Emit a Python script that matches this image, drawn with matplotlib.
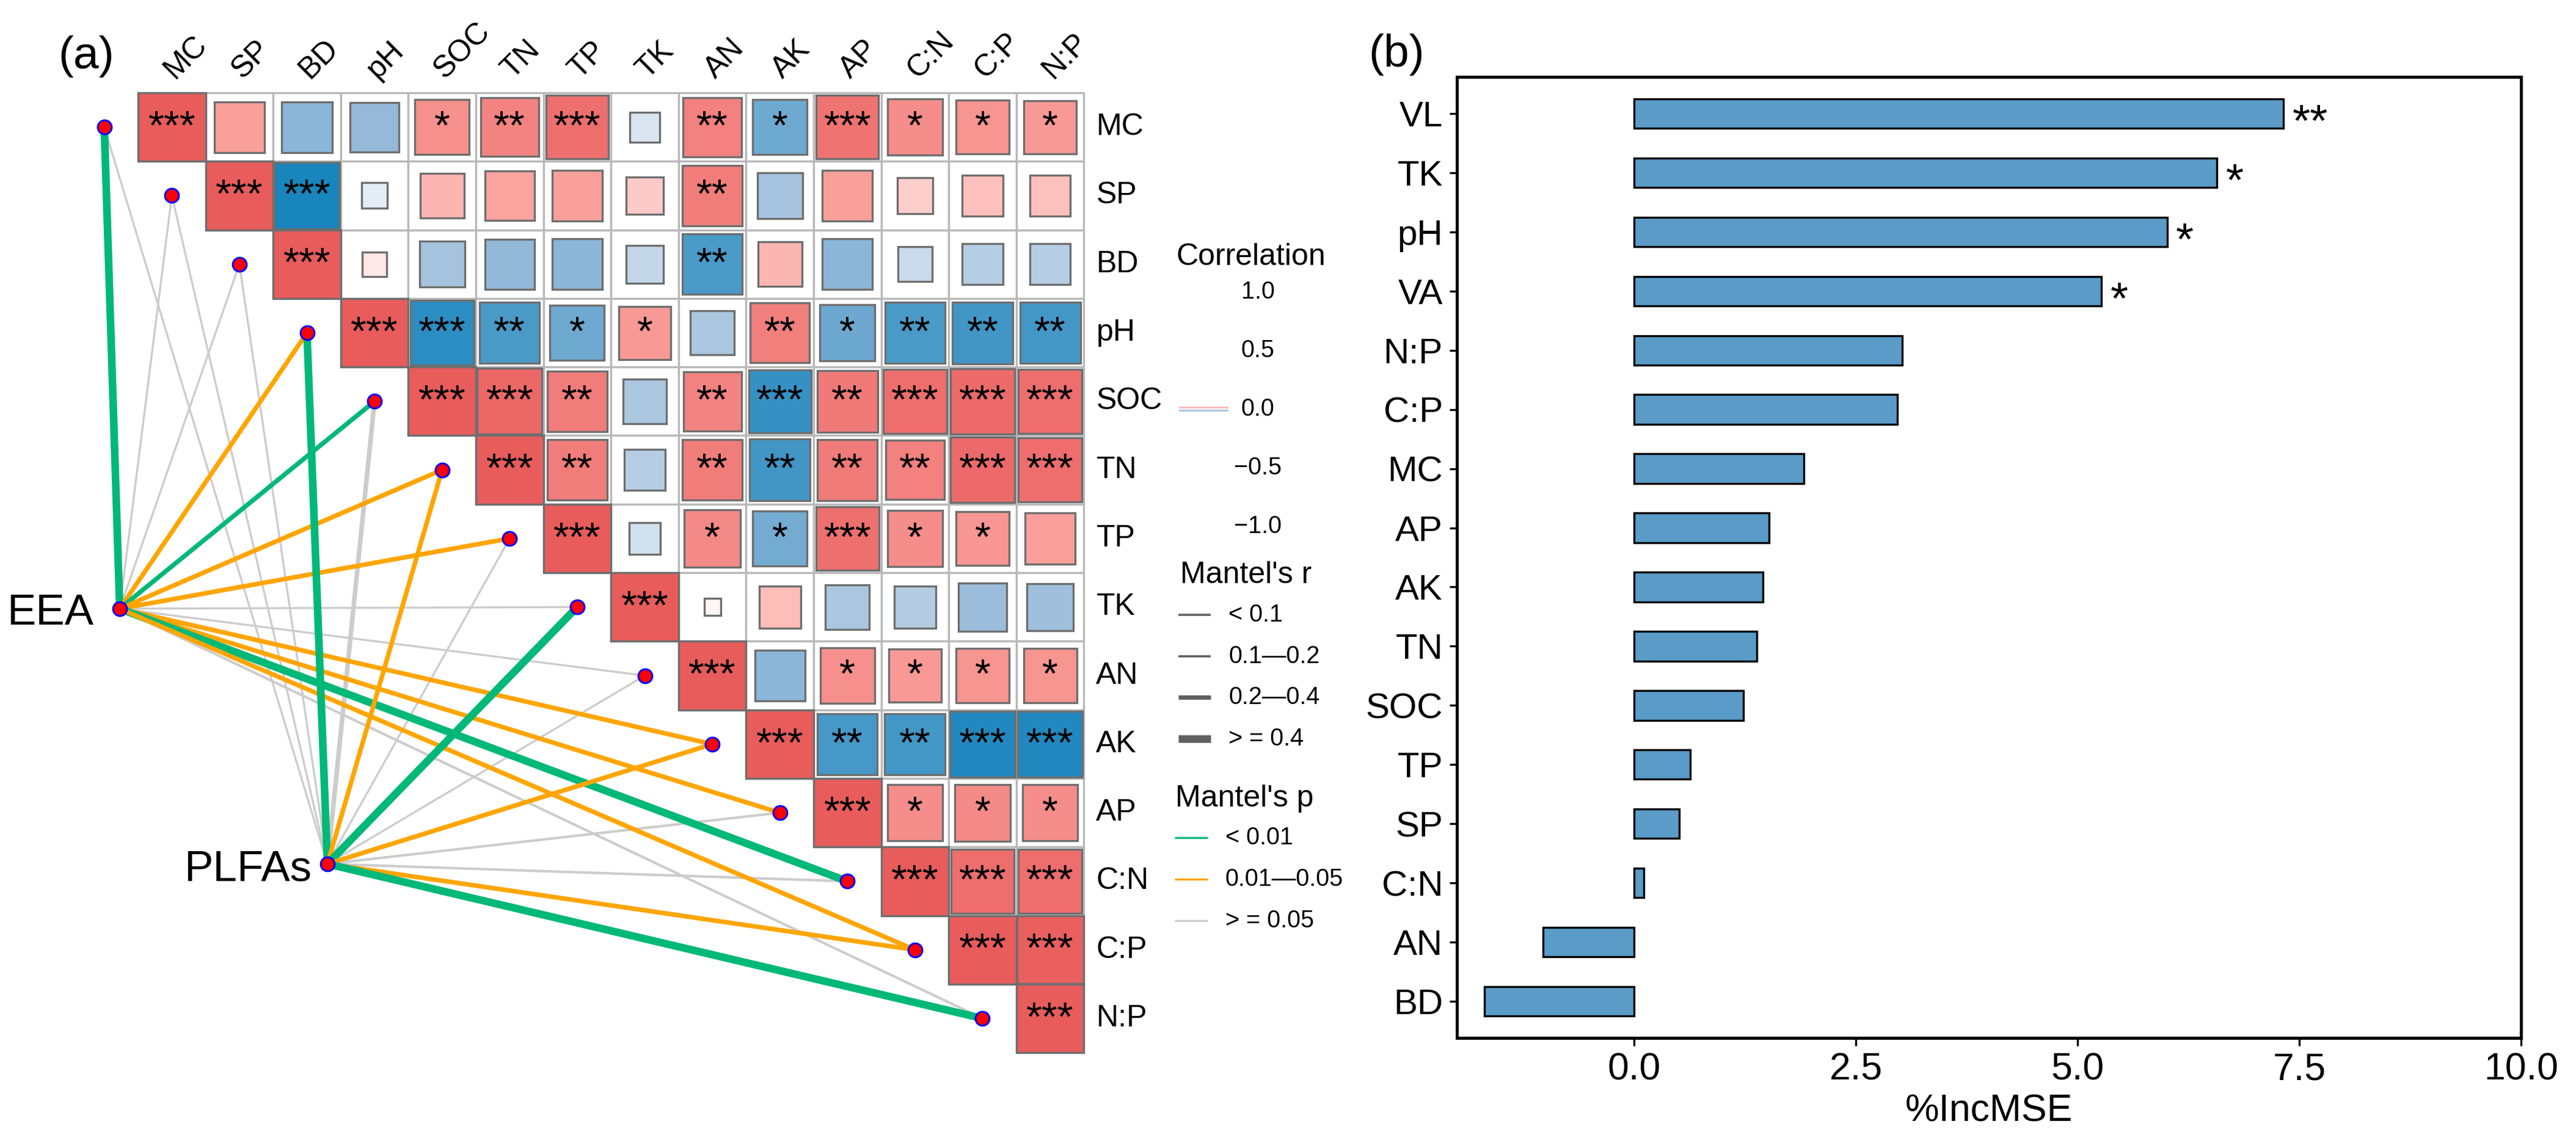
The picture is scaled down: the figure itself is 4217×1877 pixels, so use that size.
import numpy as np
import matplotlib
matplotlib.use('Agg')
import matplotlib.pyplot as plt
from matplotlib.patches import Rectangle
from matplotlib.colors import LinearSegmentedColormap

plt.rcParams['font.family'] = ['Liberation Sans', 'DejaVu Sans']

# ---------------- data ----------------
variables = ['MC', 'SP', 'BD', 'pH', 'SOC', 'TN', 'TP', 'TK', 'AN', 'AK', 'AP', 'C:N', 'C:P', 'N:P']

# upper triangle, row by row (values right of the diagonal)
corr_rows = [
    [0.55, -0.55, -0.52, 0.65, 0.74, 0.86, -0.19, 0.75, -0.65, 0.85, 0.67, 0.62, 0.60],
    [-0.95, -0.14, 0.42, 0.53, 0.55, 0.30, 0.78, -0.45, 0.55, 0.28, 0.36, 0.36],
    [0.13, -0.45, -0.53, -0.55, -0.30, -0.78, 0.42, -0.55, -0.26, -0.36, -0.36],
    [-0.88, -0.78, -0.65, 0.60, -0.42, 0.77, -0.66, -0.78, -0.81, -0.80],
    [0.92, 0.78, -0.42, 0.74, -0.85, 0.80, 0.88, 0.90, 0.88],
    [0.78, -0.36, 0.78, -0.81, 0.79, 0.75, 0.90, 0.88],
    [-0.22, 0.69, -0.64, 0.86, 0.67, 0.61, 0.56],
    [0.06, 0.38, -0.42, -0.38, -0.50, -0.47],
    [-0.55, 0.65, 0.60, 0.62, 0.62],
    [-0.79, -0.80, -0.92, -0.92],
    [0.67, 0.69, 0.67],
    [0.88, 0.88],
    [0.97],
    [],
]
star_rows = [
    ['', '', '', '*', '**', '***', '', '**', '*', '***', '*', '*', '*'],
    ['***', '', '', '', '', '', '**', '', '', '', '', ''],
    ['', '', '', '', '', '**', '', '', '', '', ''],
    ['***', '**', '*', '*', '', '**', '*', '**', '**', '**'],
    ['***', '**', '', '**', '***', '**', '***', '***', '***'],
    ['**', '', '**', '**', '**', '**', '***', '***'],
    ['', '*', '*', '***', '*', '*', ''],
    ['', '', '', '', '', ''],
    ['', '*', '*', '*', '*'],
    ['**', '**', '***', '***'],
    ['*', '*', '*'],
    ['***', '***'],
    ['***'],
    [],
]

# Mantel test of each community against each soil variable
mantel_r_eea = [0.45, 0.05, 0.06, 0.25, 0.28, 0.27, 0.26, 0.04, 0.08, 0.27, 0.25, 0.42, 0.26, 0.12]
mantel_p_eea = [0.001, 0.42, 0.35, 0.02, 0.008, 0.03, 0.03, 0.60, 0.20, 0.02, 0.03, 0.004, 0.04, 0.09]
mantel_r_plfa = [0.07, 0.05, 0.08, 0.44, 0.30, 0.22, 0.09, 0.41, 0.06, 0.24, 0.15, 0.13, 0.25, 0.43]
mantel_p_plfa = [0.30, 0.50, 0.25, 0.002, 0.07, 0.04, 0.15, 0.006, 0.40, 0.03, 0.08, 0.10, 0.02, 0.001]

# random forest importance
bar_vars = ['VL', 'TK', 'pH', 'VA', 'N:P', 'C:P', 'MC', 'AP', 'AK', 'TN', 'SOC', 'TP', 'SP', 'C:N', 'AN', 'BD']
inc_mse = [7.32, 6.57, 6.01, 5.27, 3.02, 2.97, 1.91, 1.52, 1.45, 1.38, 1.23, 0.63, 0.51, 0.11, -1.03, -1.69]
bar_stars = ['**', '*', '*', '*', '', '', '', '', '', '', '', '', '', '', '', '']

# ---------------- layout (pixel positions in the 4217x1877 picture) ----------------
W, H = 4217, 1877
GX0, GY0, CW, CH = 226, 152, 110.6, 112.3


def cx(px):
    return (px - GX0) / CW - 0.5


def cy(py):
    return (py - GY0) / CH - 0.5


fig = plt.figure(figsize=(W / 300, H / 300), dpi=300)
ax = fig.add_axes([0, 0, 0.53, 1])
ax.set_xlim(cx(0), cx(0.53 * W))
ax.set_ylim(cy(H), cy(0))
ax.axis('off')

n = len(variables)
corr = np.eye(n)
stars = [['' for _ in range(n)] for _ in range(n)]
for i in range(n):
    stars[i][i] = '***'
    for k, (v, s) in enumerate(zip(corr_rows[i], star_rows[i])):
        corr[i, i + 1 + k] = v
        stars[i][i + 1 + k] = s

cmap = LinearSegmentedColormap.from_list(
    'corr', ['#0A7FBA', '#9BBCDA', '#FFFFFF', '#FCA8A3', '#E85C5C'])

for i in range(n):
    for j in range(i, n):
        ax.add_patch(Rectangle((j - 0.5, i - 0.5), 1, 1, fc='white', ec='#B8B8B8', lw=0.8, zorder=1))
for i in range(n):
    for j in range(i, n):
        r = corr[i, j]
        s = np.sqrt(abs(r))
        ax.add_patch(Rectangle((j - s / 2, i - s / 2), s, s, fc=cmap((r + 1) / 2),
                               ec='#6E6E6E', lw=0.8, zorder=2))
        if stars[i][j]:
            ax.text(j, i + 0.02, stars[i][j], ha='center', va='center', fontsize=16, zorder=3)

for j, name in enumerate(variables):
    ax.text(j + 0.04, -0.5 - 22 / CH, name, rotation=45, ha='left', va='baseline',
            rotation_mode='anchor', fontsize=12)
for i, name in enumerate(variables):
    ax.text(n - 0.5 + 20 / CW, i, name, ha='left', va='center', fontsize=12)

# Mantel links
sources = {
    'EEA': ((cx(196), cy(997)), mantel_r_eea, mantel_p_eea, (cx(153), cy(1005))),
    'PLFAs': ((cx(536), cy(1415)), mantel_r_plfa, mantel_p_plfa, (cx(510), cy(1425))),
}
r_widths = [0.8, 1.0, 1.8, 3.0]
p_colors = ['#00B878', '#FFA500', '#CCCCCC']


def r_bin(r):
    return int(np.digitize(r, [0.1, 0.2, 0.4]))


def p_bin(p):
    return int(np.digitize(p, [0.01, 0.05]))


for name, (src, rs, ps, lab) in sources.items():
    for i in range(n):
        pb = p_bin(ps[i])
        ax.plot([src[0], i - 1], [src[1], i], color=p_colors[pb], lw=r_widths[r_bin(rs[i])],
                solid_capstyle='butt', zorder=4 if pb == 2 else 5)
    ax.plot(src[0], src[1], 'o', ms=5.5, mfc='red', mec='blue', mew=0.7, zorder=7)
    ax.text(lab[0], lab[1], name, ha='right', va='center', fontsize=17)

for i in range(n):
    ax.plot(i - 1, i, 'o', ms=5.5, mfc='red', mec='blue', mew=0.7, zorder=7)

ax.text(cx(141), cy(93), '(a)', ha='center', va='center', fontsize=18)

# legend: correlation
ax.text(cx(1925), cy(421), 'Correlation', ha='left', va='center', fontsize=12)
for v in [1.0, 0.5, 0.0, -0.5, -1.0]:
    ax.text(cx(2059), cy(670 - v * 192), f'{v:.1f}'.replace('-', '\u2212'),
            ha='center', va='center', fontsize=9.5)
ax.plot([cx(1931), cx(2009)], [cy(667), cy(667)], color='#F9B9B9', lw=0.7)
ax.plot([cx(1931), cx(2009)], [cy(672), cy(672)], color='#A9C6DE', lw=0.7)

# legend: Mantel's r
ax.text(cx(1932), cy(942), "Mantel's r", ha='left', va='center', fontsize=12)
r_labels = ['< 0.1', '0.1\u20140.2', '0.2\u20140.4', '> = 0.4']
r_key_widths = [0.85, 0.85, 1.7, 3.0]
for k, (lab, w) in enumerate(zip(r_labels, r_key_widths)):
    yk = cy(1007 + k * 67.7)
    ax.plot([cx(1929), cx(1982)], [yk, yk], color='#5F5F5F', lw=w, solid_capstyle='butt')
    ax.text(cx(2011), yk, lab, ha='left', va='center', fontsize=9.5)

# legend: Mantel's p
ax.text(cx(1924), cy(1308), "Mantel's p", ha='left', va='center', fontsize=12)
p_labels = ['< 0.01', '0.01\u20140.05', '> = 0.05']
for k, (lab, c) in enumerate(zip(p_labels, p_colors)):
    yk = cy(1372 + k * 68)
    ax.plot([cx(1923), cx(1977)], [yk, yk], color=c, lw=0.8, solid_capstyle='butt')
    ax.text(cx(2006), yk, lab, ha='left', va='center', fontsize=9.5)

# ---------------- (b) bar chart ----------------
ax2 = fig.add_axes([2385 / W, 1 - 1700 / H, (4127 - 2385) / W, (1700 - 126) / H])
y = np.arange(len(bar_vars))
ax2.barh(y, inc_mse, height=0.5, color='#5A9BC7', edgecolor='black', linewidth=0.8)
for yi, v, s in zip(y, inc_mse, bar_stars):
    if s:
        ax2.text(v + 0.1, yi + 0.18, s, ha='left', va='center', fontsize=18)
ax2.set_yticks(y)
ax2.set_yticklabels(bar_vars, fontsize=14)
ax2.set_ylim(len(bar_vars) - 0.38, -0.62)
ax2.set_xlim(-2, 10)
ax2.set_xticks([0, 2.5, 5, 7.5, 10])
ax2.set_xticklabels(['0.0', '2.5', '5.0', '7.5', '10.0'], fontsize=15)
ax2.set_xlabel('%IncMSE', fontsize=15, labelpad=2)
ax2.tick_params(length=3, width=0.8, pad=2.5)
for sp in ax2.spines.values():
    sp.set_linewidth(1.2)

fig.text(2286 / W, 1 - 90 / H, '(b)', ha='center', va='center', fontsize=18)

fig.savefig('out.png', dpi=300)
